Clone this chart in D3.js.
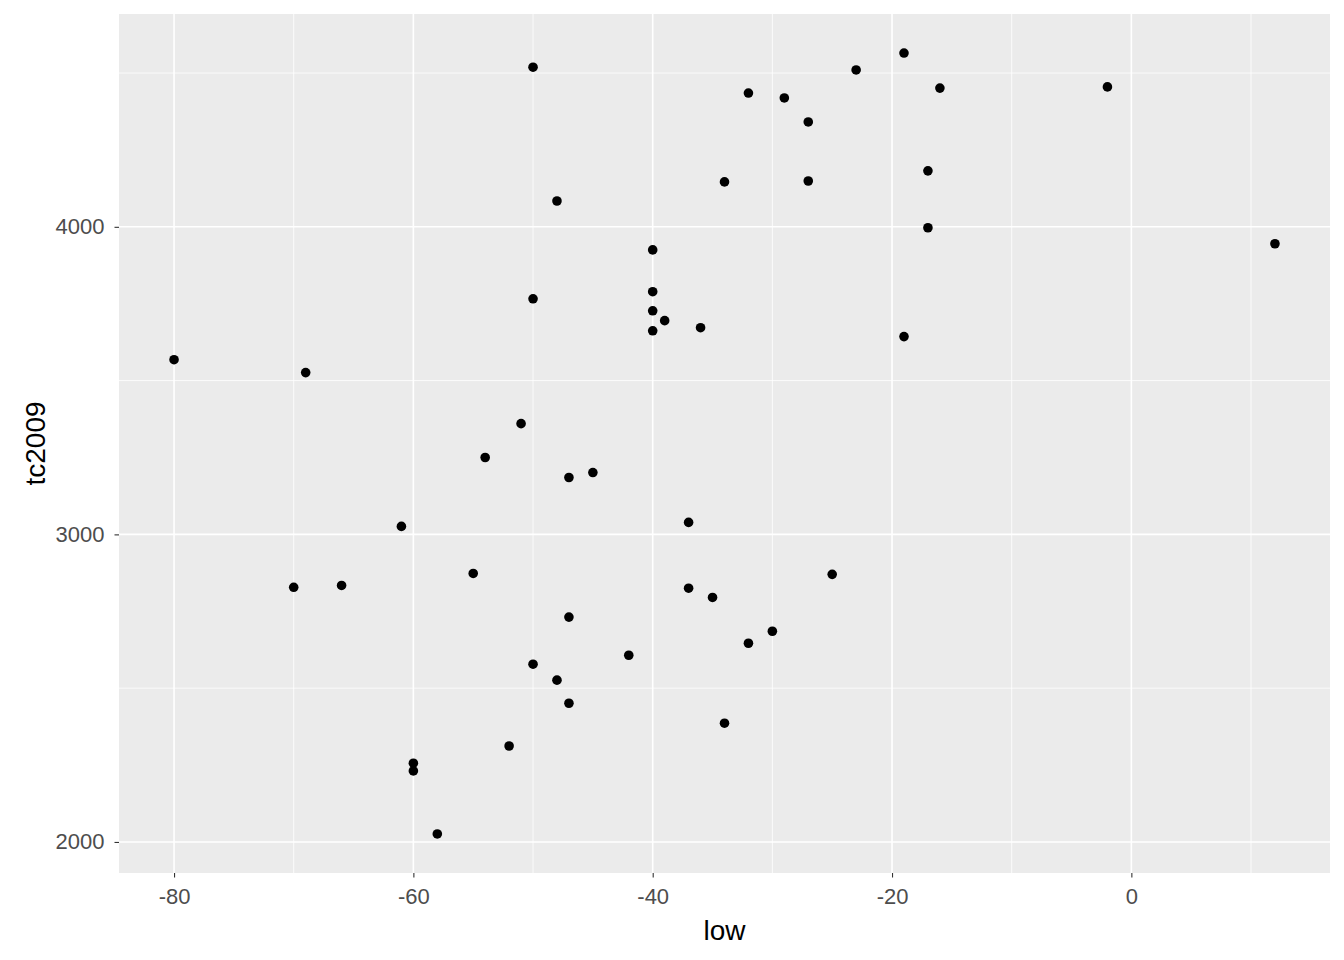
<!DOCTYPE html>
<html>
<head>
<meta charset="utf-8">
<script src="https://cdn.jsdelivr.net/npm/d3@7"></script>
<style>
  body { margin: 0; background: #fff; }
  svg { display: block; font-family: Arial, "Liberation Sans", sans-serif; }
</style>
</head>
<body>
<div id="chart"></div>
<script>
// Data
const low = [-50, -32, -29, -27, -23, -19, -16, -2, -34, -27, -17, -48, -17, 12,
             -40, -40, -40, -39, -40, -36, -50, -19, -80, -69, -51, -54, -45, -47,
             -61, -37, -70, -66, -55, -25, -37, -35, -47, -30, -32, -42, -50, -48,
             -47, -34, -52, -60, -60, -58];
const tc2009 = [4519, 4435, 4419, 4341, 4510, 4565, 4451, 4455, 4146, 4149, 4182, 4084, 3997, 3945,
                3925, 3789, 3727, 3695, 3662, 3672, 3766, 3643, 3568, 3526, 3360, 3250, 3201, 3185,
                3026, 3039, 2828, 2834, 2873, 2870, 2825, 2795, 2731, 2685, 2646, 2607, 2578, 2526,
                2451, 2386, 2312, 2256, 2231, 2026];
const xTicks = [-80, -60, -40, -20, 0];
const xMinor = [-70, -50, -30, -10, 10];
const yTicks = [2000, 3000, 4000];
const yMinor = [2500, 3500, 4500];

const points = low.map((d, i) => ({ x: d, y: tc2009[i] }));

const W = 1344, H = 960;
const margin = { top: 14, right: 14, bottom: 87, left: 119 };
const width = W - margin.left - margin.right,
      height = H - margin.top - margin.bottom;

const svg = d3.select("#chart").append("svg")
    .attr("width", W)
    .attr("height", H);

const g = svg.append("g")
    .attr("transform", `translate(${margin.left},${margin.top})`);

// ggplot style 5% expansion
function expand(ext) {
    const pad = (ext[1] - ext[0]) * 0.05;
    return [ext[0] - pad, ext[1] + pad];
}

const x = d3.scaleLinear().domain(expand(d3.extent(low))).range([0, width]);
const y = d3.scaleLinear().domain(expand(d3.extent(tc2009))).range([height, 0]);

// Panel background
g.append("rect")
    .attr("width", width)
    .attr("height", height)
    .attr("fill", "#EBEBEB");

// Minor grid
g.selectAll(".xminor").data(xMinor).enter().append("line")
    .attr("x1", d => x(d)).attr("x2", d => x(d))
    .attr("y1", 0).attr("y2", height)
    .attr("stroke", "#fff").attr("stroke-width", 0.8);
g.selectAll(".yminor").data(yMinor).enter().append("line")
    .attr("y1", d => y(d)).attr("y2", d => y(d))
    .attr("x1", 0).attr("x2", width)
    .attr("stroke", "#fff").attr("stroke-width", 0.8);

// Major grid
g.selectAll(".xmajor").data(xTicks).enter().append("line")
    .attr("x1", d => x(d)).attr("x2", d => x(d))
    .attr("y1", 0).attr("y2", height)
    .attr("stroke", "#fff").attr("stroke-width", 1.6);
g.selectAll(".ymajor").data(yTicks).enter().append("line")
    .attr("y1", d => y(d)).attr("y2", d => y(d))
    .attr("x1", 0).attr("x2", width)
    .attr("stroke", "#fff").attr("stroke-width", 1.6);

// Axes
const xAxis = g.append("g")
    .attr("transform", `translate(0,${height})`)
    .call(d3.axisBottom(x).tickValues(xTicks).tickSize(4.5).tickPadding(11).tickFormat(d3.format("d")));
const yAxis = g.append("g")
    .call(d3.axisLeft(y).tickValues(yTicks).tickSize(4.5).tickPadding(10).tickFormat(d3.format("d")));

[xAxis, yAxis].forEach(a => {
    a.attr("font-size", 22).attr("font-family", "Arial, 'Liberation Sans', sans-serif");
    a.select(".domain").remove();
    a.selectAll(".tick line").attr("stroke", "#333333").attr("stroke-width", 1.1);
    a.selectAll(".tick text").attr("fill", "#4D4D4D");
});
// plain hyphen like ggplot
xAxis.selectAll(".tick text").text(d => String(d));

// Points
g.selectAll("circle")
    .data(points)
    .enter().append("circle")
    .attr("cx", d => x(d.x))
    .attr("cy", d => y(d.y))
    .attr("r", 4.8)
    .attr("fill", "#000");

// Axis titles
svg.append("text")
    .attr("x", margin.left + width / 2)
    .attr("y", 940)
    .attr("text-anchor", "middle")
    .attr("font-size", 28)
    .attr("fill", "#000")
    .text("low");

svg.append("text")
    .attr("transform", `translate(45,${margin.top + height / 2}) rotate(-90)`)
    .attr("text-anchor", "middle")
    .attr("font-size", 28)
    .attr("fill", "#000")
    .text("tc2009");
</script>
</body>
</html>
